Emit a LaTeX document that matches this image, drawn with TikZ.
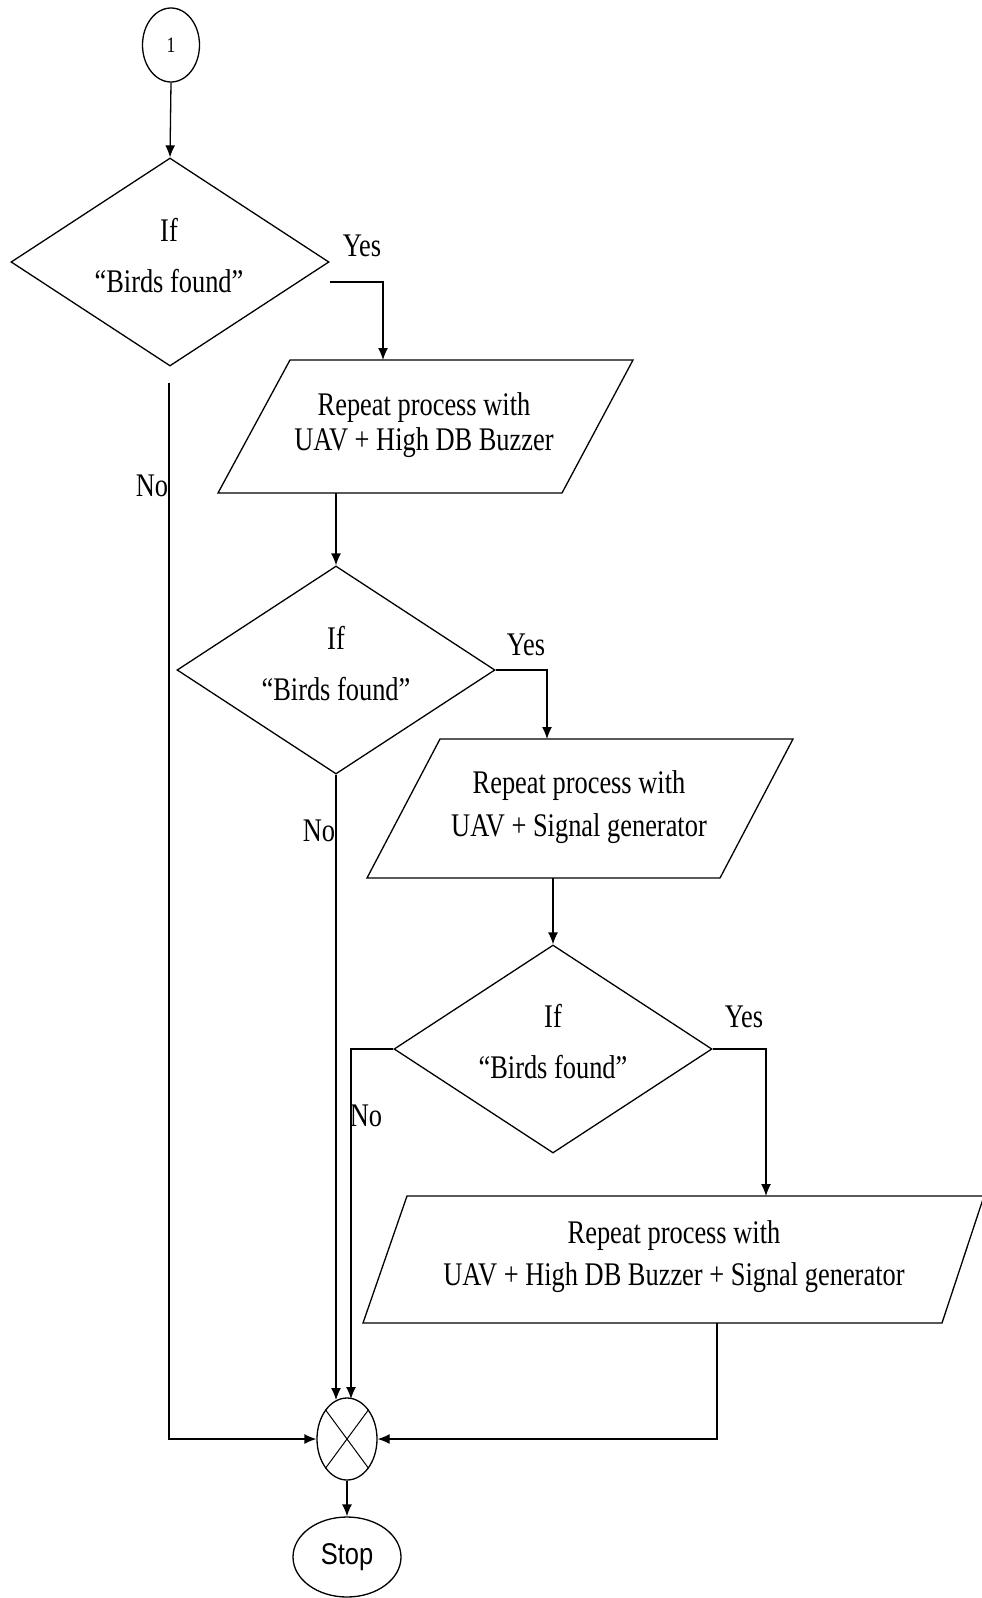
\documentclass[tikz,border=0pt]{standalone}
\usepackage{fontspec}
\setmainfont{Liberation Serif}[FakeStretch=0.8]
\newfontfamily\stopfont{Liberation Sans}[FakeStretch=0.85]
\usetikzlibrary{arrows.meta,shapes.geometric}
\tikzset{
  conn/.style={line width=1.3pt},
  arr/.style={line width=1.3pt,-{Latex[length=12pt,width=10pt]}},
  box/.style={draw,line width=1.3pt,line join=miter},
  txt/.style={font=\fontsize{33}{36}\selectfont,inner sep=0pt,align=center},
  lbl/.style={font=\fontsize{33}{36}\selectfont,inner sep=0pt},
  dia/.style={shape=diamond,draw,line width=1.3pt,inner sep=0pt,minimum width=318pt,minimum height=208pt},
  oval/.style={shape=ellipse,draw,line width=1.3pt,inner sep=0pt}
}
\begin{document}
\begin{tikzpicture}[x=1pt,y=-1pt]
\useasboundingbox[fill=white] (0,0) rectangle (982,1598);

% start connector
\node[oval,minimum width=57pt,minimum height=74pt,font=\fontsize{22}{26}\selectfont] (c1) at (171,45) {1};

% decision 1
\node[dia] (d1) at (170,262) {};
\node[lbl] (d1a) at (169,230) {If};
\node[lbl] (d1b) at (169,281) {“Birds found”};

% process 1
\coordinate (p1tl) at (290,360);
\coordinate (p1tr) at (633,360);
\coordinate (p1br) at (562,493);
\coordinate (p1bl) at (218,493);
\draw[box] (p1tl) -- (p1tr) -- (p1br) -- (p1bl) -- cycle;
\node[txt,font=\fontsize{33}{35}\selectfont] (t1) at (424,425) {Repeat process with\\UAV + High DB Buzzer};

% decision 2
\node[dia] (d2) at (336,670) {};
\node[lbl] (d2a) at (336,638) {If};
\node[lbl] (d2b) at (336,689) {“Birds found”};

% process 2
\coordinate (p2tl) at (440,739);
\coordinate (p2tr) at (793,739);
\coordinate (p2br) at (720,878);
\coordinate (p2bl) at (367,878);
\draw[box] (p2tl) -- (p2tr) -- (p2br) -- (p2bl) -- cycle;
\node[txt,font=\fontsize{33}{43}\selectfont] (t2) at (579,807) {Repeat process with\\UAV + Signal generator};

% decision 3
\node[dia] (d3) at (553,1049) {};
\node[lbl] (d3a) at (553,1016) {If};
\node[lbl] (d3b) at (553,1067) {“Birds found”};

% process 3
\coordinate (p3tl) at (407,1196);
\coordinate (p3tr) at (984,1196);
\coordinate (p3br) at (942,1323);
\coordinate (p3bl) at (363,1323);
\draw[box] (p3tl) -- (p3tr) -- (p3br) -- (p3bl) -- cycle;
\node[txt,font=\fontsize{33}{42}\selectfont] (t3) at (674,1257) {Repeat process with\\UAV + High DB Buzzer + Signal generator};

% junction and stop
\node[oval,minimum width=60pt,minimum height=82pt] (j) at (347,1439) {};
\draw[line width=1pt] (j.north east) -- (j.south west) (j.north west) -- (j.south east);
\node[oval,minimum width=108pt,minimum height=80pt] (stop) at (347,1557) {\stopfont\fontsize{30}{34}\selectfont Stop};

% connectors
\draw[arr] (c1.south) -- (d1.north);

\coordinate (y1s) at (330,282);
\coordinate (p1in) at (383,360);
\draw[arr] (y1s) -| (p1in);
\node[lbl] (yes1) at (362,246) {Yes};

\coordinate (p1out) at (336,493);
\draw[arr] (p1out) -- (d2.north);

\coordinate (p2in) at (547,739);
\draw[arr] (d2.east) -| (p2in);
\node[lbl] (yes2) at (526,645) {Yes};

\coordinate (p2out) at (553,878);
\draw[arr] (p2out) -- (d3.north);

\coordinate (p3in) at (766,1196);
\draw[arr] (d3.east) -| (p3in);
\node[lbl] (yes3) at (744,1017) {Yes};

% No branches
\coordinate (n1s) at (169,383);
\draw[arr] (n1s) |- (j.west);
\node[lbl] (no1) at (152,486) {No};

\coordinate (n2e) at (336,1400);
\draw[arr] (d2.south) -- (n2e);
\node[lbl] (no2) at (319,831) {No};

\coordinate (n3c) at (351,1049);
\coordinate (n3e) at (351,1399);
\draw[arr] (d3.west) -- (n3c) -- (n3e);
\node[lbl] (no3) at (366,1116) {No};

% process 3 to junction
\coordinate (p3out) at (717,1323);
\draw[arr] (p3out) |- (j.east);

\draw[arr] (j.south) -- (stop.north);
\end{tikzpicture}
\end{document}
